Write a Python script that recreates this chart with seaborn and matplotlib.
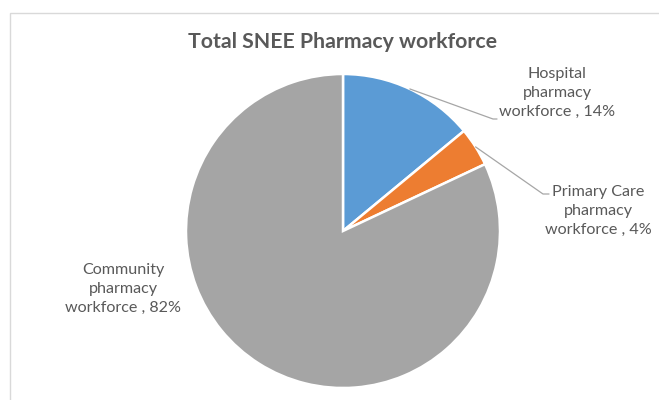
import matplotlib
matplotlib.use("Agg")
import matplotlib.pyplot as plt
import seaborn as sns
from matplotlib.patches import Rectangle
import numpy as np

sns.set_theme(style="white")
plt.rcParams['font.family'] = ['Lato', 'DejaVu Sans']

categories = ["Hospital\npharmacy\nworkforce", "Primary Care\npharmacy\nworkforce", "Community\npharmacy\nworkforce"]
values = [14, 4, 82]
colors = ["#5B9BD5", "#ED7D31", "#A5A5A5"]
title = "Total SNEE Pharmacy workforce"

fig = plt.figure(figsize=(6.59, 4.0), dpi=100)
fig.patches.append(Rectangle((10/659, -0.1), 1.0, 1 - 13/400 + 0.1, transform=fig.transFigure,
                             fill=False, edgecolor="#D9D9D9", linewidth=1.0))

ax = fig.add_axes([(343-157)/659, (400-231-157)/400, 314/659, 314/400])
wedges, _ = ax.pie(values, colors=colors, startangle=90, counterclock=False,
                   wedgeprops=dict(edgecolor="white", linewidth=1.8))
ax.set_xlim(-1, 1)
ax.set_ylim(-1, 1)
ax.set_aspect("equal")
ax.axis("off")

fig.text(343/659, 1 - 42/400, title, ha="center", va="center", fontsize=15.3,
         fontweight="bold", color="#595959")

def px_to_data(px, py):
    return ((px - 343) / 157, (231 - py) / 157)

text_pos = [(557, 93), (598, 211), (123, 289)]
elbow = [(493, 119), (543, 194), None]
elbow_end = [(497, 119), (549, 194), None]
for i, (w, lab, v) in enumerate(zip(wedges, categories, values)):
    tx, ty = px_to_data(*text_pos[i])
    ax.text(tx, ty, f"{lab} , {v}%", ha="center", va="center", fontsize=11.6,
            color="#595959", linespacing=1.42)
    if elbow[i] is not None:
        ang = np.deg2rad((w.theta1 + w.theta2) / 2)
        sx, sy = np.cos(ang), np.sin(ang)
        ex, ey = px_to_data(*elbow[i])
        fx, fy = px_to_data(*elbow_end[i])
        ax.plot([sx, ex, fx], [sy, ey, fy], color="#A6A6A6", linewidth=0.9,
                clip_on=False)

fig.savefig("out.png", dpi=100)
